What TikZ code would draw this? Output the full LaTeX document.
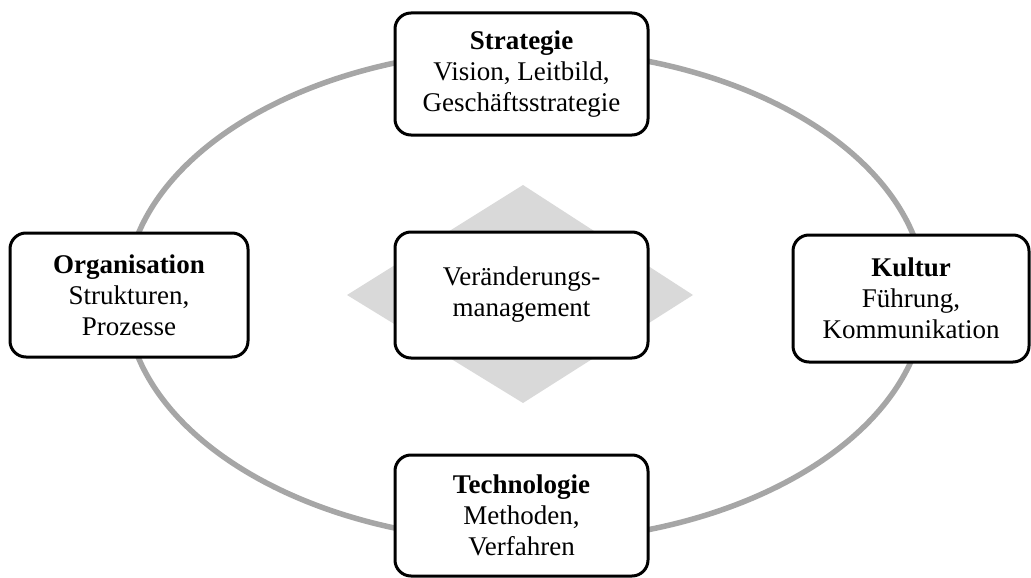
\documentclass[tikz,border=0pt]{standalone}
\usepackage{fontspec}
\setmainfont{Liberation Serif}
\begin{document}
\begin{tikzpicture}[x=1pt,y=-1pt,
  field/.style={draw=black, line width=3pt, fill=white, rounded corners=16pt,
    inner sep=0pt, align=center, font=\fontsize{27}{31}\selectfont},
  ring/.style={draw=gray!70, line width=5.5pt},
  core/.style={fill=black!15}]
\useasboundingbox (0,0) rectangle (1031,578);
% surrounding ellipse
\draw[ring] (525.5,295.5) ellipse [x radius=400pt, y radius=246pt];
% grey diamond behind the centre box
\coordinate (dt) at (523,185);
\coordinate (dr) at (693,295);
\coordinate (db) at (523,403);
\coordinate (dl) at (347,295);
\fill[core] (dt) -- (dr) -- (db) -- (dl) -- cycle;
% boxes
\node[field, minimum width=253pt, minimum height=122pt] (strat) at (521.5,74)
  {\textbf{Strategie}\\Vision, Leitbild,\\Geschäftsstrategie};
\node[field, minimum width=253pt, minimum height=126pt] (change) at (521.5,295)
  {Veränderungs-\\management};
\node[field, minimum width=238pt, minimum height=124pt] (org) at (129,295)
  {\textbf{Organisation}\\Strukturen,\\Prozesse};
\node[field, minimum width=236pt, minimum height=127pt] (kult) at (911,298.5)
  {\textbf{Kultur}\\Führung,\\Kommunikation};
\node[field, minimum width=253pt, minimum height=121pt] (tech) at (521.5,515.5)
  {\textbf{Technologie}\\Methoden,\\Verfahren};
\end{tikzpicture}
\end{document}
